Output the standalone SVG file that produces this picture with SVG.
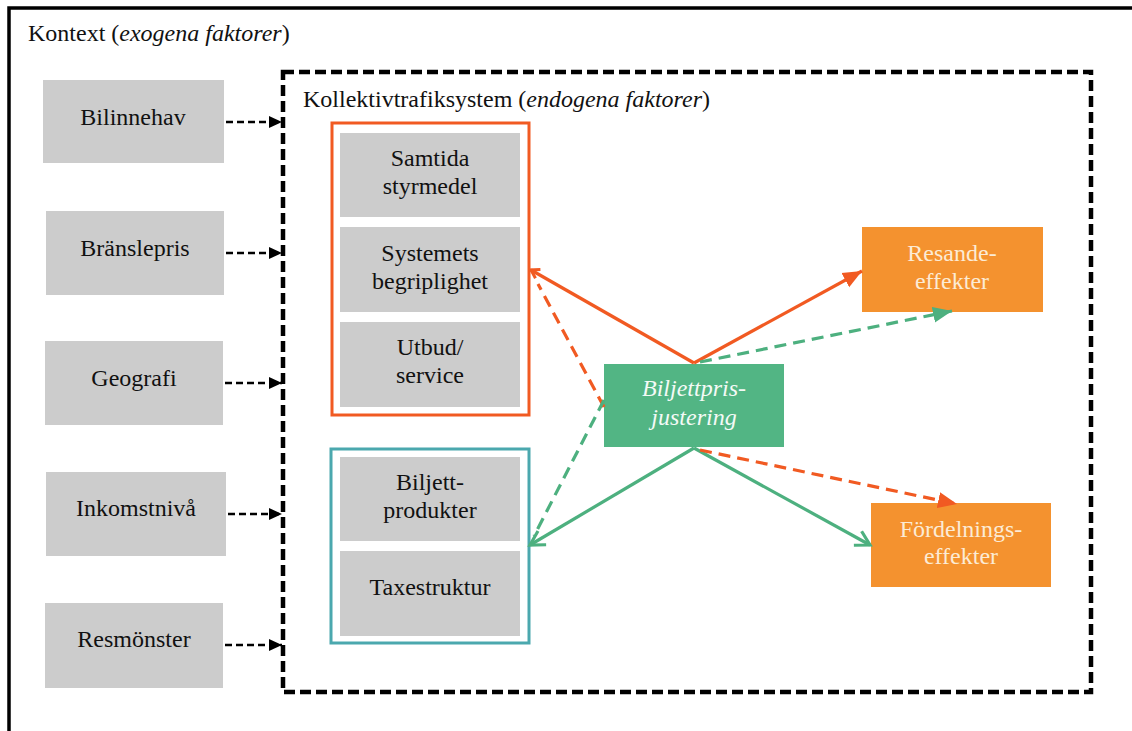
<svg xmlns="http://www.w3.org/2000/svg" width="1132" height="731" viewBox="0 0 1132 731">
<style>
.t{font-family:"Liberation Serif","DejaVu Serif",serif;font-size:24px;fill:#111;text-anchor:middle}
.lbl{font-family:"Liberation Serif","DejaVu Serif",serif;font-size:24px;fill:#111}
.g{fill:#CCCCCC}
.w{fill:#FCEBD5}
.ital{font-style:italic}
.blk{stroke:#000;stroke-width:2.5;stroke-dasharray:7 4;fill:none}
.os{stroke:#F15A22;stroke-width:3.2;fill:none}
.od{stroke:#F15A22;stroke-width:3.2;stroke-dasharray:12 7;fill:none}
.gs{stroke:#4DB07F;stroke-width:3.2;fill:none}
.gd{stroke:#4DB07F;stroke-width:3.2;stroke-dasharray:12 7;fill:none}
</style>
<defs>
<marker id="ab" markerUnits="userSpaceOnUse" markerWidth="14" markerHeight="14" viewBox="0 0 14 14" refX="13" refY="7" orient="auto"><path d="M0,1 L13,7 L0,13 Z" fill="#000"/></marker>
<marker id="ao" markerUnits="userSpaceOnUse" markerWidth="20" markerHeight="18" viewBox="0 0 20 18" refX="19" refY="9" orient="auto"><path d="M0,1 L19,9 L0,17 Z" fill="#F15A22"/></marker>
<marker id="ag" markerUnits="userSpaceOnUse" markerWidth="20" markerHeight="18" viewBox="0 0 20 18" refX="19" refY="9" orient="auto"><path d="M0,1 L19,9 L0,17 Z" fill="#4DB07F"/></marker>
<marker id="vg" markerUnits="userSpaceOnUse" markerWidth="20" markerHeight="20" viewBox="0 0 20 20" refX="17" refY="10" orient="auto"><path d="M3,2 L17,10 L3,18" fill="none" stroke="#4DB07F" stroke-width="3.2"/></marker>
<marker id="vo" markerUnits="userSpaceOnUse" markerWidth="14" markerHeight="14" viewBox="0 0 14 14" refX="12" refY="7" orient="auto"><path d="M4,2 L12,7 L4,12" fill="none" stroke="#F15A22" stroke-width="3"/></marker>
</defs>

<g id="frame">
<path d="M9,731 V8 H1132" fill="none" stroke="#000" stroke-width="3.5"/>
<text class="lbl" x="28" y="41">Kontext (<tspan class="ital">exogena faktorer</tspan>)</text>
</g>

<g id="system">
<rect x="283" y="72" width="808" height="620" fill="none" stroke="#000" stroke-width="4.5" stroke-dasharray="11 5"/>
<text class="lbl" x="303" y="107">Kollektivtrafiksystem (<tspan class="ital">endogena faktorer</tspan>)</text>
</g>

<g id="bilinnehav"><rect class="g" x="43" y="80" width="181" height="83"/><text class="t" x="133" y="125">Bilinnehav</text></g>
<g id="branslepris"><rect class="g" x="46" y="211" width="178" height="84"/><text class="t" x="135" y="256">Bränslepris</text></g>
<g id="geografi"><rect class="g" x="45" y="341" width="178" height="84"/><text class="t" x="134" y="386">Geografi</text></g>
<g id="inkomstniva"><rect class="g" x="46" y="472" width="180" height="84"/><text class="t" x="136" y="516">Inkomstnivå</text></g>
<g id="resmonster"><rect class="g" x="45" y="603" width="178" height="85"/><text class="t" x="134" y="647">Resmönster</text></g>

<g id="orangegroup">
<rect x="332" y="123" width="197" height="292" fill="none" stroke="#F15A22" stroke-width="3"/>
<g id="samtida"><rect class="g" x="340" y="133" width="180" height="84"/><text class="t" x="430" y="166">Samtida</text><text class="t" x="430" y="194">styrmedel</text></g>
<g id="systemets"><rect class="g" x="340" y="227" width="180" height="85"/><text class="t" x="430" y="261">Systemets</text><text class="t" x="430" y="289">begriplighet</text></g>
<g id="utbud"><rect class="g" x="340" y="322" width="180" height="85"/><text class="t" x="430" y="355">Utbud/</text><text class="t" x="430" y="383">service</text></g>
</g>

<g id="tealgroup">
<rect x="331" y="449" width="198" height="194" fill="none" stroke="#4BA8AE" stroke-width="3"/>
<g id="biljettprodukter"><rect class="g" x="340" y="457" width="180" height="84"/><text class="t" x="430" y="490">Biljett-</text><text class="t" x="430" y="518">produkter</text></g>
<g id="taxestruktur"><rect class="g" x="340" y="551" width="180" height="85"/><text class="t" x="430" y="595">Taxestruktur</text></g>
</g>

<g id="biljettprisjustering"><rect x="604" y="364" width="180" height="83" fill="#52B584"/><text class="t ital" x="694" y="396" style="fill:#F4FAF6">Biljettpris-</text><text class="t ital" x="694" y="425" style="fill:#F4FAF6">justering</text></g>

<g id="resandeeffekter"><rect x="862" y="227" width="181" height="85" fill="#F4922F"/><text class="t w" x="952" y="261">Resande-</text><text class="t w" x="952" y="289">effekter</text></g>
<g id="fordelningseffekter"><rect x="871" y="503" width="180" height="84" fill="#F4922F"/><text class="t w" x="961" y="537">Fördelnings-</text><text class="t w" x="961" y="564">effekter</text></g>

<g id="connectors">
<line class="blk" x1="226" y1="122" x2="282" y2="122" marker-end="url(#ab)"/>
<line class="blk" x1="226" y1="253" x2="282" y2="253" marker-end="url(#ab)"/>
<line class="blk" x1="225" y1="383" x2="282" y2="383" marker-end="url(#ab)"/>
<line class="blk" x1="228" y1="514" x2="282" y2="514" marker-end="url(#ab)"/>
<line class="blk" x1="225" y1="645" x2="282" y2="645" marker-end="url(#ab)"/>

<line class="os" x1="694" y1="363" x2="531" y2="270" marker-end="url(#vo)"/>
<line class="os" x1="694" y1="363" x2="862" y2="271" marker-end="url(#ao)"/>
<line class="od" x1="604" y1="407" x2="538" y2="284"/>
<line class="gd" x1="700" y1="362" x2="952" y2="311" marker-end="url(#ag)"/>

<line class="gs" x1="694" y1="448" x2="530" y2="545" marker-end="url(#vg)"/>
<line class="gs" x1="694" y1="448" x2="870" y2="545" marker-end="url(#vg)"/>
<line class="gd" x1="604" y1="400" x2="534" y2="536"/>
<line class="od" x1="700" y1="450" x2="957" y2="504" marker-end="url(#ao)"/>
</g>
</svg>
